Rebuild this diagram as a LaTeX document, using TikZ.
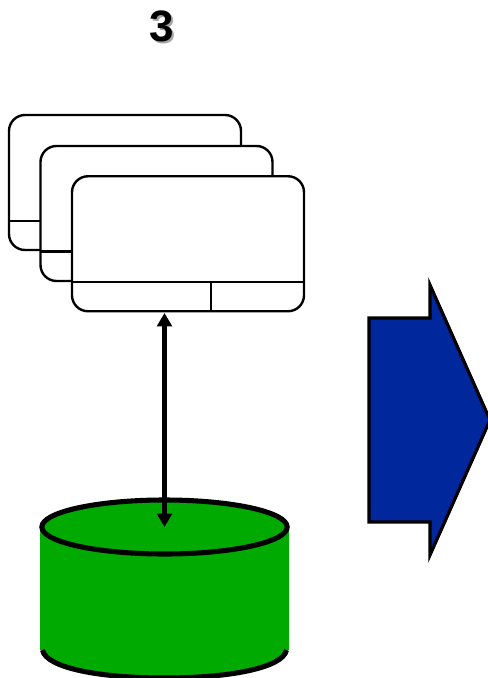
\documentclass[tikz,border=0pt]{standalone}
\usepackage{fontspec}
\setmainfont{Liberation Sans}
\usetikzlibrary{arrows.meta,shapes.geometric}
\definecolor{drumgreen}{HTML}{00AA00}
\definecolor{bigblue}{HTML}{00289C}
\tikzset{
  card/.style={draw=black,fill=white,line width=1.8pt,rounded corners=12pt,minimum width=174pt,minimum height=101.25pt,inner sep=0pt,outer sep=0pt},
  rule/.style={draw=black,line width=1.8pt},
  link/.style={draw=black,line width=3.4pt,{Triangle[length=10pt,width=11pt]}-{Triangle[length=10pt,width=11pt]}},
  drumrim/.style={draw=black,line width=3.8pt,line cap=butt},
  bigarrow/.style={draw=black,fill=bigblue,line width=2.4pt,miter limit=10},
  digit/.style={font=\bfseries\fontsize{33}{33}\selectfont,inner sep=0pt}
}
\begin{document}
\begin{tikzpicture}[x=0.75pt,y=-0.75pt]
\useasboundingbox (0,0) rectangle (488,678);
% title
\node[digit,text=black!35] (titleshadow) at (163.5,28.5) {3};
\node[digit,text=black] (title) at (161.5,26.5) {3};
% stacked cards
\node[card] (card1) at (125,182.5) {};
\draw[rule] (9,221) -- (41,221);
\node[card] (card2) at (156.5,213.5) {};
\draw[rule] (40.5,251.5) -- (72,251.5);
\node[card] (card3) at (188,243.75) {};
\coordinate (divl) at (72,282);
\coordinate (divr) at (304,282);
\coordinate (divt) at (211,282);
\coordinate (divb) at (211,311);
\draw[rule] (divl) -- (divr);
\draw[rule] (divt) -- (divb);
% cylinder
\fill[drumgreen] (40,527) -- (40,650) -- (42,650) .. controls (46,668) and (100,678) .. (164.5,678) .. controls (229,678) and (283,668) .. (287,650) -- (289,650) -- (289,527) -- cycle;
\draw[drumrim] (42.5,650) .. controls (46,668) and (100,678) .. (164.5,678) .. controls (229,678) and (283,668) .. (286.5,650);
\node[draw=black,fill=drumgreen,line width=3.8pt,ellipse,minimum width=184pt,minimum height=40.5pt,inner sep=0pt,outer sep=0pt] (drumtop) at (164.5,527) {};
% link
\coordinate (linka) at (164.5,313);
\coordinate (linkb) at (164.5,527);
\draw[link] (linka) -- (linkb);
% big arrow
\draw[bigarrow] (369,318) -- (430,318) -- (430,285) -- (490,420) -- (430,555) -- (430,522) -- (369,522) -- cycle;
\end{tikzpicture}
\end{document}
